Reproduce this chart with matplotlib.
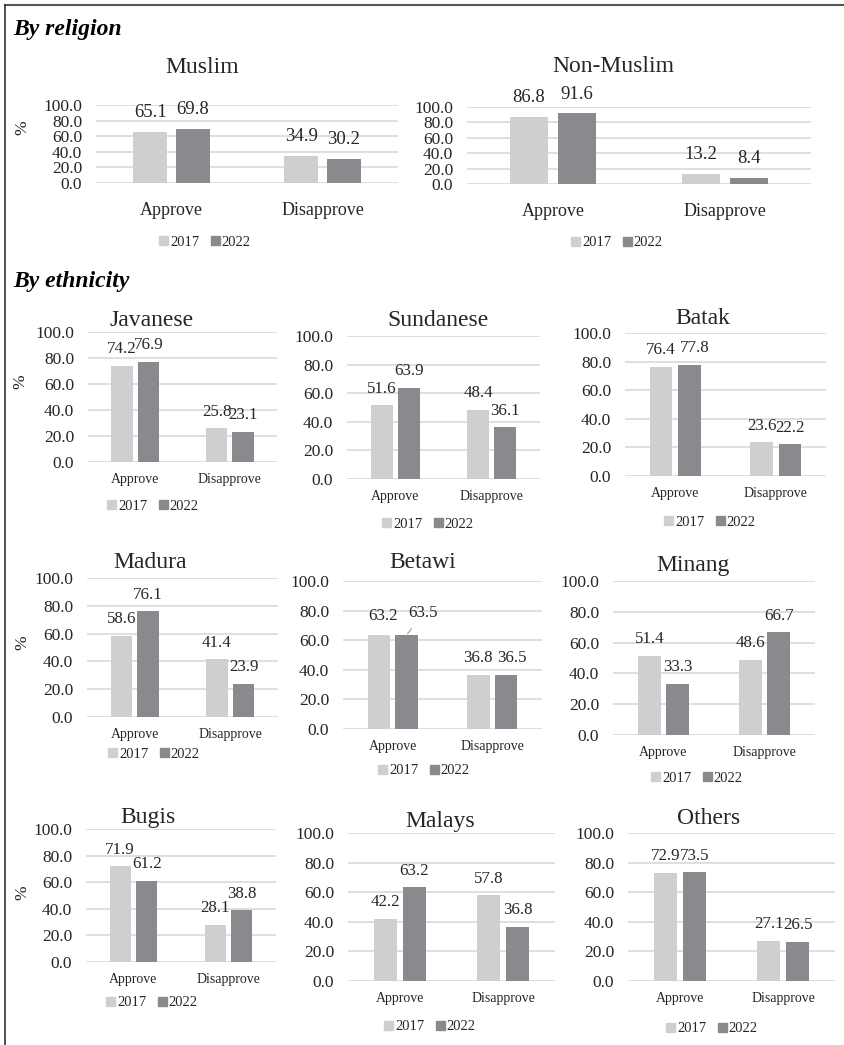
import matplotlib
matplotlib.use("Agg")
import matplotlib.pyplot as plt
from matplotlib.patches import Patch
from matplotlib.ticker import FormatStrFormatter
from matplotlib.lines import Line2D

plt.rcParams['font.family'] = ['Liberation Serif', 'DejaVu Serif']

# ---------------- data ----------------
categories = ['Approve', 'Disapprove']
years = ['2017', '2022']
groups = ['Muslim', 'Non-Muslim', 'Javanese', 'Sundanese', 'Batak',
          'Madura', 'Betawi', 'Minang', 'Bugis', 'Malays', 'Others']
approve_2017 = [65.1, 86.8, 74.2, 51.6, 76.4, 58.6, 63.2, 51.4, 71.9, 42.2, 72.9]
approve_2022 = [69.8, 91.6, 76.9, 63.9, 77.8, 76.1, 63.5, 33.3, 61.2, 63.2, 73.5]
disapprove_2017 = [34.9, 13.2, 25.8, 48.4, 23.6, 41.4, 36.8, 48.6, 28.1, 57.8, 27.1]
disapprove_2022 = [30.2, 8.4, 23.1, 36.1, 22.2, 23.9, 36.5, 66.7, 38.8, 36.8, 26.5]
y_ticks = [0, 20, 40, 60, 80, 100]
section_titles = ['By religion', 'By ethnicity']

# ---------------- layout (pixels) ----------------
W, H = 844, 1045
layout = {
    'Muslim':     dict(ax=(96, 398, 105, 183), title=(202, 68), leg=(205, 242), ylab=(22, 128), big=True),
    'Non-Muslim': dict(ax=(467, 811, 107, 184), title=(613, 67), leg=(617, 243), ylab=None, big=True),
    'Javanese':   dict(ax=(88, 277, 332, 462), title=(152, 320), leg=(153, 506), ylab=(20, 382), big=False),
    'Sundanese':  dict(ax=(347, 540, 336, 479), title=(438, 321), leg=(428, 524), ylab=None, big=False),
    'Batak':      dict(ax=(625, 826, 333, 476), title=(703, 318), leg=(710, 522), ylab=None, big=False),
    'Madura':     dict(ax=(87, 278, 578, 717), title=(150, 563), leg=(154, 754), ylab=(22, 643), big=False),
    'Betawi':     dict(ax=(343, 542, 581, 729), title=(423, 562), leg=(424, 771), ylab=None, big=False),
    'Minang':     dict(ax=(613, 815, 581, 735), title=(693, 565), leg=(697, 778), ylab=None, big=False),
    'Bugis':      dict(ax=(86, 276, 829, 962), title=(148, 817), leg=(152, 1003), ylab=(22, 893), big=False),
    'Malays':     dict(ax=(348, 555, 833, 981), title=(440, 821), leg=(430, 1027), ylab=None, big=False),
    'Others':     dict(ax=(628, 835, 833, 981), title=(709, 818), leg=(712, 1029), ylab=None, big=False),
}
# label nudges in pixels (group, category index, year index) -> (dx, dy, leader)
nudges = {
    ('Betawi', 0, 0): (4, -3, False),
    ('Betawi', 0, 1): (16, -5, True),
    ('Betawi', 1, 1): (6, 0, False),
    ('Batak', 0, 1): (5, 0, False),
}
section_pos = [(13, 30), (13, 282)]

C_LIGHT = '#cfcfd1'
C_DARK = '#8a8a8e'
C_GRID = '#d9d9d9'
C_TEXT = '#262626'

fig = plt.figure(figsize=(W / 100, H / 100), dpi=100)


def fx(x):
    return x / W


def fy(y):
    return 1 - y / H


fig.add_artist(Line2D([fx(5), 1], [fy(5), fy(5)], color='#555555', lw=1.5, transform=fig.transFigure))
fig.add_artist(Line2D([fx(5), fx(5)], [fy(5), 0], color='#333333', lw=1.2, transform=fig.transFigure))

for (sx, sy), st in zip(section_pos, section_titles):
    fig.text(fx(sx), fy(sy), st, fontsize=17, fontweight='bold', fontstyle='italic',
             ha='left', va='center', color='black')

bw = 0.225
off = 0.14
px2pt = 72 / 100
for i, g in enumerate(groups):
    L = layout[g]
    x0, x1, yt, yb = L['ax']
    ax = fig.add_axes([fx(x0), fy(yb), (x1 - x0) / W, (yb - yt) / H])
    vals17 = [approve_2017[i], disapprove_2017[i]]
    vals22 = [approve_2022[i], disapprove_2022[i]]
    xs = list(range(len(categories)))
    b1 = ax.bar([x - off for x in xs], vals17, width=bw, color=C_LIGHT, zorder=3)
    b2 = ax.bar([x + off for x in xs], vals22, width=bw, color=C_DARK, zorder=3)
    big = L['big']
    lab_fs = 13.5 if big else 12.2
    lab_off = 14 if big else 12
    for yi, (bars, vals) in enumerate(((b1, vals17), (b2, vals22))):
        for ci, (rect, v) in enumerate(zip(bars, vals)):
            dx, dy, leader = nudges.get((g, ci, yi), (0, 0, False))
            xc = rect.get_x() + rect.get_width() / 2
            kw = {}
            if leader:
                kw['arrowprops'] = dict(arrowstyle='-', color='#999999', lw=0.8,
                                        shrinkA=4, shrinkB=1)
            ax.annotate(f'{v:.1f}', (xc, v),
                        xytext=(dx * px2pt, lab_off - dy * px2pt), textcoords='offset points',
                        ha='center', va='center', fontsize=lab_fs, color=C_TEXT, **kw)
    ax.set_xlim(-0.5, 1.5)
    ax.set_ylim(0, 100)
    ax.set_yticks(y_ticks)
    ax.yaxis.set_major_formatter(FormatStrFormatter('%.1f'))
    ax.set_xticks(xs)
    ax.set_xticklabels(categories)
    ax.grid(axis='y', color=C_GRID, lw=1.2, zorder=0)
    ax.set_axisbelow(True)
    for s in ax.spines.values():
        s.set_visible(False)
    ax.tick_params(axis='y', length=0, pad=10, labelsize=12.5, labelcolor=C_TEXT)
    if big:
        ax.tick_params(axis='x', length=0, pad=14, labelsize=13, labelcolor=C_TEXT)
    else:
        ax.tick_params(axis='x', length=0, pad=8, labelsize=10, labelcolor=C_TEXT)
    tx, ty = L['title']
    fig.text(fx(tx), fy(ty), g, fontsize=17, ha='center', va='center', color=C_TEXT)
    lx, ly = L['leg']
    handles = [Patch(color=C_LIGHT), Patch(color=C_DARK)]
    ax.legend(handles, years, loc='center', bbox_to_anchor=(fx(lx), fy(ly)),
              bbox_transform=fig.transFigure, frameon=False, ncol=2,
              handlelength=0.6, handleheight=0.6, handletextpad=0.15,
              columnspacing=0.8, fontsize=10.5, borderpad=0, borderaxespad=0,
              labelcolor=C_TEXT)
    if L['ylab'] is not None:
        yx, yy = L['ylab']
        fig.text(fx(yx), fy(yy), '%', fontsize=12.5, rotation=90,
                 ha='center', va='center', color=C_TEXT)

fig.savefig('out.png', dpi=100)
